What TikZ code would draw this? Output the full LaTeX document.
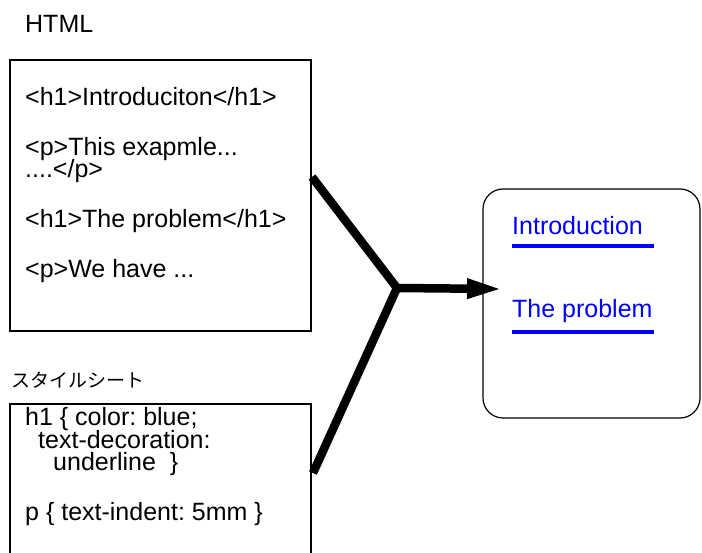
\documentclass[tikz,border=0pt]{standalone}
\usepackage{fontspec}
\setmainfont{Liberation Sans}
\newfontfamily\jpfont{Noto Sans CJK JP}
\usetikzlibrary{arrows.meta}
\frenchspacing
\definecolor{linkblue}{RGB}{0,0,255}
\tikzset{
  panel/.style={draw=black, line width=1.2pt, rectangle, inner sep=0pt},
  code/.style={anchor=base west, inner sep=0pt, font=\fontsize{25}{22}\selectfont},
  link/.style={code, text=linkblue},
  uline/.style={draw=linkblue, line width=3.3pt},
  flow/.style={line width=8.5pt, line join=miter, miter limit=10},
}
\begin{document}
\begin{tikzpicture}[x=1pt, y=-1pt]
  \useasboundingbox (0,0) rectangle (702,553);
  \clip (0,0) rectangle (702,553);

  % source document
  \node[code] (htmllabel) at (25,33) {HTML};
  \node[panel, minimum width=301pt, minimum height=271pt] (html) at (160.5,195.5) {};
  \node[code] (h1a) at (25,106) {<h1>Introduciton</h1>};
  \node[code] (pa)  at (25,156) {<p>This exapmle...};
  \node[code] (pb)  at (25,178) {....</p>};
  \node[code] (h1b) at (25,228) {<h1>The problem</h1>};
  \node[code] (pc)  at (25,278) {<p>We have ...};

  % style sheet
  \node[anchor=base west, inner sep=0pt, font=\jpfont\fontsize{19}{20}\selectfont] (csslabel) at (11,388) {スタイルシート};
  \node[panel, minimum width=301pt, minimum height=170pt] (css) at (160.5,489) {};
  \node[code] (ra) at (25,426) {h1 \{ color: blue;};
  \node[code] (rb) at (38,448) {text-decoration:};
  \node[code] (rc) at (53,470) {underline~~\}};
  \node[code] (rd) at (25,520) {p \{ text-indent: 5mm \}};

  % formatted result
  \node[panel, rounded corners=20pt, minimum width=217pt, minimum height=229pt] (result) at (591.5,303.5) {};
  \node[link] (intro) at (512,235) {Introduction};
  \node[link] (prob)  at (512,318) {The problem};
  \draw[uline] (intro.base west) ++(0,11) -- ++(142,0);
  \draw[uline] (prob.base west) ++(0,14) -- ++(142,0);

  % merging arrow
  \coordinate (hOut) at (312,177);
  \coordinate (sOut) at (313,473);
  \coordinate (join) at (397,288);
  \coordinate (tip)  at (503,289);
  \draw[flow] (hOut) -- (join) -- (sOut);
  \draw[flow, -{Triangle[length=36pt, width=18pt]}] (join) -- (tip);
\end{tikzpicture}
\end{document}
